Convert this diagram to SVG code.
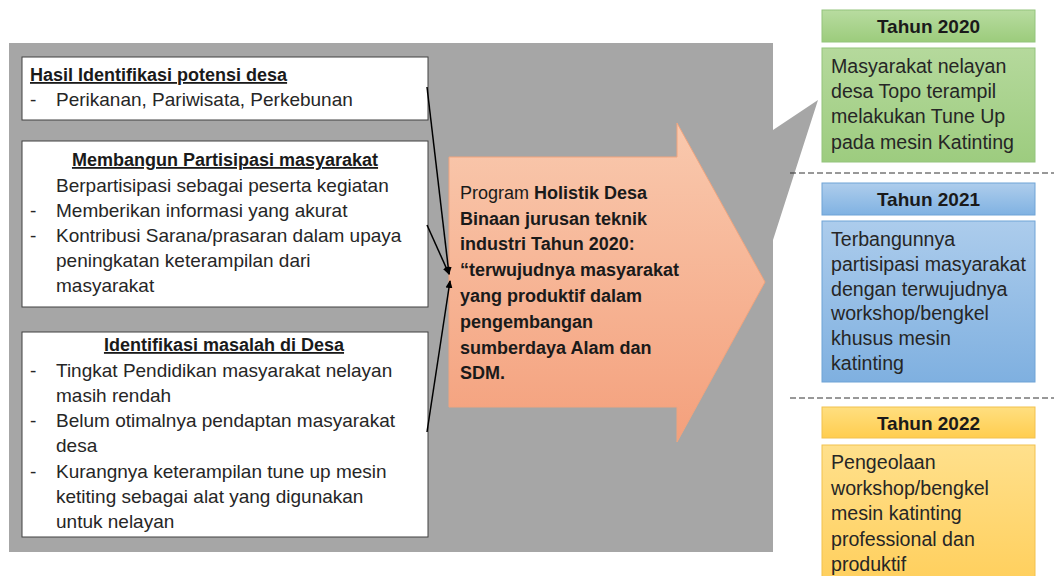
<svg xmlns="http://www.w3.org/2000/svg" width="1054" height="576" viewBox="0 0 1054 576">
<defs>
<style>
.t{font-family:"Liberation Sans",Arial,sans-serif;font-size:19px;fill:#262626}
.tb{font-family:"Liberation Sans",Arial,sans-serif;font-size:18px;font-weight:bold;fill:#1a1a1a}
.h{font-size:19px}
.u{text-decoration:underline}
.r{font-family:"Liberation Sans",Arial,sans-serif;font-size:19.6px;fill:#262626}
.box{fill:#ffffff;stroke:#404040;stroke-width:1}
.conn{stroke:#000;stroke-width:1.5;fill:none;marker-end:url(#ah)}
.dash{stroke:#333;stroke-width:1;stroke-dasharray:6 3}
</style>
<linearGradient id="gOr" x1="0" y1="0" x2="0" y2="1"><stop offset="0" stop-color="#f9c9ae"/><stop offset="1" stop-color="#f4a07c"/></linearGradient>
<linearGradient id="gGrH" x1="0" y1="0" x2="0" y2="1"><stop offset="0" stop-color="#b8dca0"/><stop offset="1" stop-color="#9ccc7c"/></linearGradient>
<linearGradient id="gGrB" x1="0" y1="0" x2="0" y2="1"><stop offset="0" stop-color="#b5d99c"/><stop offset="1" stop-color="#9dcc7f"/></linearGradient>
<linearGradient id="gBlH" x1="0" y1="0" x2="0" y2="1"><stop offset="0" stop-color="#aecdec"/><stop offset="1" stop-color="#80b2e2"/></linearGradient>
<linearGradient id="gBlB" x1="0" y1="0" x2="0" y2="1"><stop offset="0" stop-color="#acccec"/><stop offset="1" stop-color="#7fb0e0"/></linearGradient>
<linearGradient id="gYeH" x1="0" y1="0" x2="0" y2="1"><stop offset="0" stop-color="#ffdf80"/><stop offset="1" stop-color="#ffcd4f"/></linearGradient>
<linearGradient id="gYeB" x1="0" y1="0" x2="0" y2="1"><stop offset="0" stop-color="#ffe08c"/><stop offset="1" stop-color="#ffcf5c"/></linearGradient>
<marker id="ah" markerWidth="8" markerHeight="8" refX="7" refY="4" orient="auto" markerUnits="userSpaceOnUse"><path d="M0,0.5 L8,4 L0,7.5 Z" fill="#000"/></marker>
</defs>

<g id="background">
<polygon points="9,43 773,43 773,130 818,100 773,240 773,552 9,552" fill="#a6a6a6"/>
</g>

<g id="box-potensi">
<rect class="box" x="22" y="57" width="406" height="63"/>
<text class="tb u" x="30" y="81">Hasil Identifikasi potensi desa</text>
<text class="t" x="30" y="106">-</text>
<text class="t" x="56" y="106">Perikanan, Pariwisata, Perkebunan</text>
</g>

<g id="box-partisipasi">
<rect class="box" x="22" y="141" width="406" height="166"/>
<text class="tb u" x="225" y="166" text-anchor="middle">Membangun Partisipasi masyarakat</text>
<text class="t" x="56" y="192">Berpartisipasi sebagai peserta kegiatan</text>
<text class="t" x="30" y="217">-</text>
<text class="t" x="56" y="217">Memberikan informasi yang akurat</text>
<text class="t" x="30" y="242">-</text>
<text class="t" x="56" y="242">Kontribusi Sarana/prasaran dalam upaya</text>
<text class="t" x="56" y="267">peningkatan keterampilan dari</text>
<text class="t" x="56" y="292">masyarakat</text>
</g>

<g id="box-masalah">
<rect class="box" x="22" y="332" width="406" height="205"/>
<text class="tb u" x="224" y="351" text-anchor="middle">Identifikasi masalah di Desa</text>
<text class="t" x="30" y="377">-</text>
<text class="t" x="56" y="377">Tingkat Pendidikan masyarakat nelayan</text>
<text class="t" x="56" y="402">masih rendah</text>
<text class="t" x="30" y="427">-</text>
<text class="t" x="56" y="427">Belum otimalnya pendaptan masyarakat</text>
<text class="t" x="56" y="452">desa</text>
<text class="t" x="30" y="478">-</text>
<text class="t" x="56" y="478">Kurangnya keterampilan tune up mesin</text>
<text class="t" x="56" y="503">ketiting sebagai alat yang digunakan</text>
<text class="t" x="56" y="528">untuk nelayan</text>
</g>

<g id="program-arrow">
<polygon points="449,157 677,157 677,123 765,282 677,442 677,407 449,407" fill="url(#gOr)" stroke="#f0a47e" stroke-width="1"/>
<text class="tb" x="460" y="199"><tspan font-weight="normal">Program </tspan>Holistik Desa</text>
<text class="tb" x="460" y="225">Binaan jurusan teknik</text>
<text class="tb" x="460" y="250">industri Tahun 2020:</text>
<text class="tb" x="460" y="276">“terwujudnya masyarakat</text>
<text class="tb" x="460" y="302">yang produktif dalam</text>
<text class="tb" x="460" y="328">pengembangan</text>
<text class="tb" x="460" y="354">sumberdaya Alam dan</text>
<text class="tb" x="460" y="379">SDM.</text>
</g>

<g id="connectors">
<line class="conn" x1="427" y1="87" x2="449" y2="274"/>
<line class="conn" x1="427" y1="225" x2="449" y2="274"/>
<line class="conn" x1="427" y1="432" x2="450" y2="281"/>
</g>

<g id="tahun-2020">
<rect x="822" y="10" width="213" height="32" fill="url(#gGrH)" stroke="#93c47d" stroke-width="1"/>
<text class="tb h" x="928.5" y="33" text-anchor="middle">Tahun 2020</text>
<rect x="822" y="48" width="213" height="114" fill="url(#gGrB)" stroke="#93c47d" stroke-width="1"/>
<text class="r" x="831" y="73">Masyarakat nelayan</text>
<text class="r" x="831" y="98">desa Topo terampil</text>
<text class="r" x="831" y="123">melakukan Tune Up</text>
<text class="r" x="831" y="149">pada mesin Katinting</text>
</g>

<line class="dash" x1="790" y1="173" x2="1054" y2="173"/>

<g id="tahun-2021">
<rect x="822" y="183" width="213" height="32" fill="url(#gBlH)" stroke="#6fa3d6" stroke-width="1"/>
<text class="tb h" x="928.5" y="206" text-anchor="middle">Tahun 2021</text>
<rect x="822" y="221" width="213" height="161" fill="url(#gBlB)" stroke="#6fa3d6" stroke-width="1"/>
<text class="r" x="831" y="246">Terbangunnya</text>
<text class="r" x="831" y="271">partisipasi masyarakat</text>
<text class="r" x="831" y="296">dengan terwujudnya</text>
<text class="r" x="831" y="320">workshop/bengkel</text>
<text class="r" x="831" y="345">khusus mesin</text>
<text class="r" x="831" y="370">katinting</text>
</g>

<line class="dash" x1="790" y1="398" x2="1054" y2="398"/>

<g id="tahun-2022">
<rect x="822" y="407" width="213" height="31" fill="url(#gYeH)" stroke="#f2c14e" stroke-width="1"/>
<text class="tb h" x="928.5" y="430" text-anchor="middle">Tahun 2022</text>
<rect x="822" y="445" width="213" height="140" fill="url(#gYeB)" stroke="#f2c14e" stroke-width="1"/>
<text class="r" x="831" y="469">Pengeolaan</text>
<text class="r" x="831" y="495">workshop/bengkel</text>
<text class="r" x="831" y="520">mesin katinting</text>
<text class="r" x="831" y="546">professional dan</text>
<text class="r" x="831" y="571">produktif</text>
</g>
</svg>
